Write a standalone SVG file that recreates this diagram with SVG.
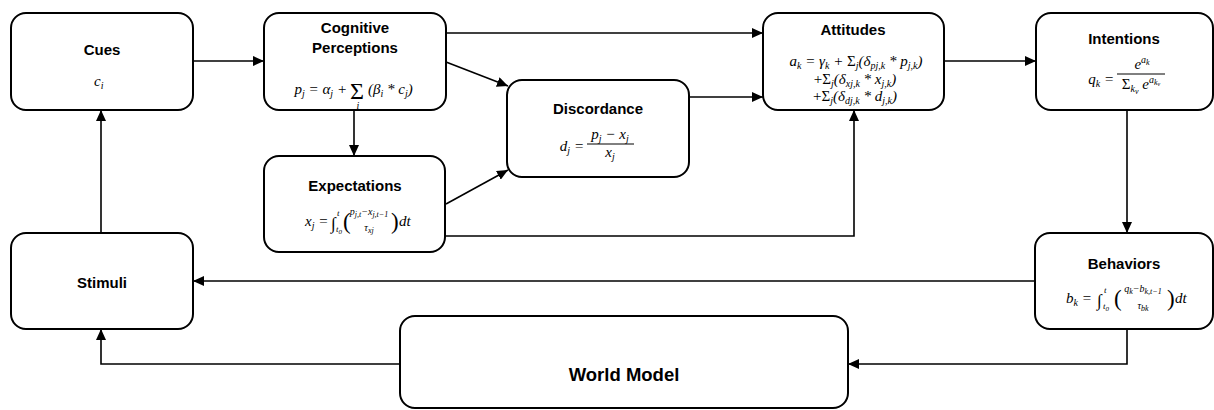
<svg xmlns="http://www.w3.org/2000/svg" width="1214" height="410" viewBox="0 0 1214 410">
<style>
.box{fill:#fff;stroke:#000;stroke-width:2}
.t{font-family:"Liberation Sans",Arial,sans-serif;font-weight:bold;font-size:15px;text-anchor:middle;fill:#000}
.m{font-family:"Liberation Serif","Times New Roman",serif;font-style:italic;font-size:15px;fill:#000}
.u{font-style:normal}
.sb{font-size:10px}
.ss{font-size:8px}
.mid{text-anchor:middle}
.end{text-anchor:end}
.c{fill:none;stroke:#000;stroke-width:1.6;marker-end:url(#a)}
.ln{fill:none;stroke:#000;stroke-width:1}
</style>
<defs>
<marker id="a" markerUnits="userSpaceOnUse" markerWidth="12" markerHeight="10" refX="11" refY="5" orient="auto">
<path d="M0,0 L11,5 L0,10 z" fill="#000"/>
</marker>
</defs>
<rect width="1214" height="410" fill="#fff"/>
<g id="connectors">
<path class="c" d="M193,61 H264"/>
<path class="c" d="M446,33 H763"/>
<path class="c" d="M446,62 L508,86"/>
<path class="c" d="M354,110 V156"/>
<path class="c" d="M446,204 L508,170"/>
<path class="c" d="M446,236 H854 V110"/>
<path class="c" d="M689,97 H763"/>
<path class="c" d="M944,61 H1036"/>
<path class="c" d="M1127,110 V233"/>
<path class="c" d="M1035,281 H193"/>
<path class="c" d="M1127,329 V364 H848"/>
<path class="c" d="M400,364 H101 V329"/>
<path class="c" d="M101,233 V110"/>
</g>
<g id="cues">
<rect class="box" x="11" y="13" width="182" height="97" rx="15"/>
<text class="t" x="102" y="55">Cues</text>
<text class="m" x="94" y="86">c<tspan class="sb" dy="3">i</tspan></text>
</g>
<g id="cognitive-perceptions">
<rect class="box" x="264" y="13" width="182" height="97" rx="15"/>
<text class="t" x="355" y="33">Cognitive</text>
<text class="t" x="355" y="53">Perceptions</text>
<text class="m end" x="347" y="94">p<tspan class="sb" dy="3">j</tspan><tspan dy="-3"> = α</tspan><tspan class="sb" dy="3">j</tspan><tspan dy="-3"> +</tspan></text>
<text x="350" y="99" style="font-family:'Liberation Serif',serif;font-size:24px;fill:#000">Σ</text>
<text class="m mid" x="358" y="109" style="font-size:10px">i</text>
<text class="m" x="368" y="94">(β<tspan class="sb" dy="3">i</tspan><tspan dy="-3"> * c</tspan><tspan class="sb" dy="3">j</tspan><tspan dy="-3">)</tspan></text>
</g>
<g id="expectations">
<rect class="box" x="264" y="156" width="181" height="96" rx="15"/>
<text class="t" x="355" y="191">Expectations</text>
<text class="m" x="305" y="226">x<tspan class="sb" dy="3">j</tspan><tspan dy="-3"> =</tspan></text>
<text class="m u" x="331" y="229" style="font-size:17px">∫</text>
<text class="m" x="337" y="216" style="font-size:9px">t</text>
<text class="m" x="336" y="232" style="font-size:9px">t<tspan dy="2" style="font-size:7px">0</tspan></text>
<text class="m u" x="343" y="229" style="font-size:23px">(</text>
<text class="m mid" x="369" y="215" style="font-size:10px">p<tspan class="ss" dy="2">j,t</tspan><tspan dy="-2">−x</tspan><tspan class="ss" dy="2">j,t−1</tspan></text>
<text class="m mid" x="369" y="231" style="font-size:10px">τ<tspan class="ss" dy="2">xj</tspan></text>
<text class="m u" x="391" y="229" style="font-size:23px">)</text>
<text class="m" x="399" y="226">dt</text>
</g>
<g id="discordance">
<rect class="box" x="507" y="80" width="182" height="97" rx="15"/>
<text class="t" x="598" y="114">Discordance</text>
<text class="m end" x="584" y="151">d<tspan class="sb" dy="3">j</tspan><tspan dy="-3"> =</tspan></text>
<line class="ln" x1="587" y1="144" x2="634" y2="144"/>
<text class="m mid" x="610" y="139">p<tspan class="sb" dy="3">j</tspan><tspan dy="-3"> − x</tspan><tspan class="sb" dy="3">j</tspan></text>
<text class="m mid" x="610" y="157">x<tspan class="sb" dy="3">j</tspan></text>
</g>
<g id="attitudes">
<rect class="box" x="763" y="13" width="181" height="97" rx="15"/>
<text class="t" x="853" y="35">Attitudes</text>
<text class="m mid" x="856" y="66">a<tspan class="sb" dy="3">k</tspan><tspan dy="-3"> = γ</tspan><tspan class="sb" dy="3">k</tspan><tspan dy="-3"> + </tspan><tspan class="u">Σ</tspan><tspan class="sb" dy="3">j</tspan><tspan dy="-3">(δ</tspan><tspan class="sb" dy="3">pj,k</tspan><tspan dy="-3"> * p</tspan><tspan class="sb" dy="3">j,k</tspan><tspan dy="-3">)</tspan></text>
<text class="m mid" x="855" y="84"><tspan class="u">+Σ</tspan><tspan class="sb" dy="3">j</tspan><tspan dy="-3">(δ</tspan><tspan class="sb" dy="3">xj,k</tspan><tspan dy="-3"> * x</tspan><tspan class="sb" dy="3">j,k</tspan><tspan dy="-3">)</tspan></text>
<text class="m mid" x="855" y="101"><tspan class="u">+Σ</tspan><tspan class="sb" dy="3">j</tspan><tspan dy="-3">(δ</tspan><tspan class="sb" dy="3">dj,k</tspan><tspan dy="-3"> * d</tspan><tspan class="sb" dy="3">j,k</tspan><tspan dy="-3">)</tspan></text>
</g>
<g id="intentions">
<rect class="box" x="1036" y="13" width="177" height="97" rx="15"/>
<text class="t" x="1124" y="44">Intentions</text>
<text class="m end" x="1114" y="84">q<tspan class="sb" dy="3">k</tspan><tspan dy="-3"> =</tspan></text>
<line class="ln" x1="1117" y1="74" x2="1165" y2="74"/>
<text class="m mid" x="1142" y="69">e<tspan class="sb" dy="-6">a</tspan><tspan class="ss" dy="2">k</tspan></text>
<text class="m mid" x="1141" y="89"><tspan class="u">Σ</tspan><tspan class="sb" dy="3">k</tspan><tspan class="ss" dy="2">v</tspan><tspan dy="-5"> e</tspan><tspan class="sb" dy="-6">a</tspan><tspan class="ss" dy="2">k</tspan><tspan dy="1" style="font-size:6px">v</tspan></text>
</g>
<g id="behaviors">
<rect class="box" x="1035" y="233" width="178" height="96" rx="15"/>
<text class="t" x="1124" y="269">Behaviors</text>
<text class="m" x="1066" y="303">b<tspan class="sb" dy="3">k</tspan><tspan dy="-3"> =</tspan></text>
<text class="m u" x="1097" y="306" style="font-size:17px">∫</text>
<text class="m" x="1104" y="293" style="font-size:9px">t</text>
<text class="m" x="1103" y="309" style="font-size:9px">t<tspan dy="2" style="font-size:7px">0</tspan></text>
<text class="m u" x="1114" y="306" style="font-size:23px">(</text>
<text class="m mid" x="1143" y="292" style="font-size:10px">q<tspan class="ss" dy="2">k</tspan><tspan dy="-2">−b</tspan><tspan class="ss" dy="2">k,t−1</tspan></text>
<text class="m mid" x="1143" y="309" style="font-size:10px">τ<tspan class="ss" dy="2">bk</tspan></text>
<text class="m u" x="1167" y="306" style="font-size:23px">)</text>
<text class="m" x="1175" y="303">dt</text>
</g>
<g id="stimuli">
<rect class="box" x="11" y="233" width="182" height="96" rx="15"/>
<text class="t" x="102" y="288">Stimuli</text>
</g>
<g id="world-model">
<rect class="box" x="400" y="316" width="448" height="92" rx="15"/>
<text class="t" x="624" y="381" style="font-size:18.5px">World Model</text>
</g>
</svg>
